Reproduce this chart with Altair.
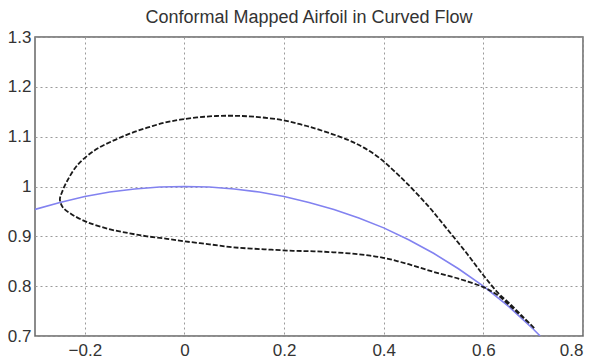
import altair as alt
import pandas as pd

# Blue reference curve
circle_x = [-0.30, -0.25, -0.20, -0.15, -0.10, -0.05, 0.00, 0.05, 0.10, 0.15, 0.20, 0.25, 0.30,
            0.35, 0.40, 0.45, 0.50, 0.55, 0.60, 0.65, 0.70, 0.714]
circle_y = [0.954, 0.968, 0.980, 0.989, 0.995, 0.999, 1.000, 0.999, 0.995, 0.989, 0.980, 0.968, 0.954,
            0.937, 0.917, 0.893, 0.866, 0.835, 0.800, 0.760, 0.714, 0.700]

# Airfoil upper surface (nose -> trailing edge)
upper_x = [-0.250, -0.246, -0.236, -0.214, -0.178, -0.143, -0.110, -0.075, -0.040, -0.009, 0.040,
           0.092, 0.140, 0.192, 0.232, 0.270, 0.327, 0.360, 0.393, 0.420, 0.447, 0.490, 0.527,
           0.565, 0.600, 0.630, 0.655, 0.680, 0.702]
upper_y = [0.974, 0.988, 1.010, 1.044, 1.074, 1.092, 1.106, 1.118, 1.128, 1.134, 1.140,
           1.142, 1.140, 1.134, 1.125, 1.114, 1.094, 1.078, 1.056, 1.032, 1.006, 0.960, 0.915,
           0.868, 0.822, 0.786, 0.763, 0.738, 0.716]
# Airfoil lower surface (nose -> trailing edge)
lower_x = [-0.244, -0.226, -0.194, -0.149, -0.110, -0.075, -0.035, 0.000, 0.050, 0.098, 0.160,
           0.218, 0.260, 0.299, 0.350, 0.399, 0.450, 0.499, 0.550, 0.600, 0.630, 0.654, 0.675,
           0.694, 0.702]
lower_y = [0.958, 0.944, 0.928, 0.914, 0.906, 0.900, 0.895, 0.890, 0.884, 0.878, 0.874,
           0.871, 0.870, 0.868, 0.864, 0.857, 0.844, 0.829, 0.815, 0.798, 0.781, 0.760, 0.741,
           0.724, 0.716]

x_ticks = [-0.2, 0, 0.2, 0.4, 0.6, 0.8]
y_ticks = [0.7, 0.8, 0.9, 1.0, 1.1, 1.2, 1.3]

seq_x = upper_x[::-1] + lower_x
seq_y = upper_y[::-1] + lower_y
airfoil = pd.DataFrame({"x": seq_x, "y": seq_y, "o": list(range(len(seq_x)))})
circle = pd.DataFrame({"x": circle_x, "y": circle_y})

xs = alt.Scale(domain=[-0.3, 0.8], nice=False, zero=False)
ys = alt.Scale(domain=[0.7, 1.3], nice=False, zero=False)

axis_common = dict(grid=True, gridDash=[2, 3], gridColor="#9a9a9a", gridWidth=1,
                   domain=False, ticks=False, labelFont="Liberation Sans",
                   labelFontSize=17, labelColor="#333333", format=".1~f", title=None)

X = alt.X("x:Q", scale=xs, axis=alt.Axis(values=x_ticks, labelPadding=6, **axis_common))
Y = alt.Y("y:Q", scale=ys, axis=alt.Axis(values=y_ticks, labelPadding=4, **axis_common))

blue = alt.Chart(circle).mark_line(color="#8282f0", strokeWidth=1.6, clip=True).encode(x=X, y=Y)
foil = alt.Chart(airfoil).mark_line(color="#1a1a1a", strokeWidth=1.8, strokeDash=[5, 2],
                                    interpolate="catmull-rom", clip=True).encode(x=X, y=Y, order="o:Q")

chart = (blue + foil).properties(
    width=548, height=299,
    title=alt.TitleParams("Conformal Mapped Airfoil in Curved Flow", font="Liberation Sans",
                          fontSize=18, fontWeight="normal", color="#333333",
                          anchor="middle", offset=1),
    autosize=alt.AutoSizeParams(type="none"),
    padding={"left": 27, "top": 29, "right": 5, "bottom": 26},
).configure_view(stroke="#666666", strokeWidth=1.5)

chart.save("out.html", embed_options={"renderer": "svg", "actions": False})
